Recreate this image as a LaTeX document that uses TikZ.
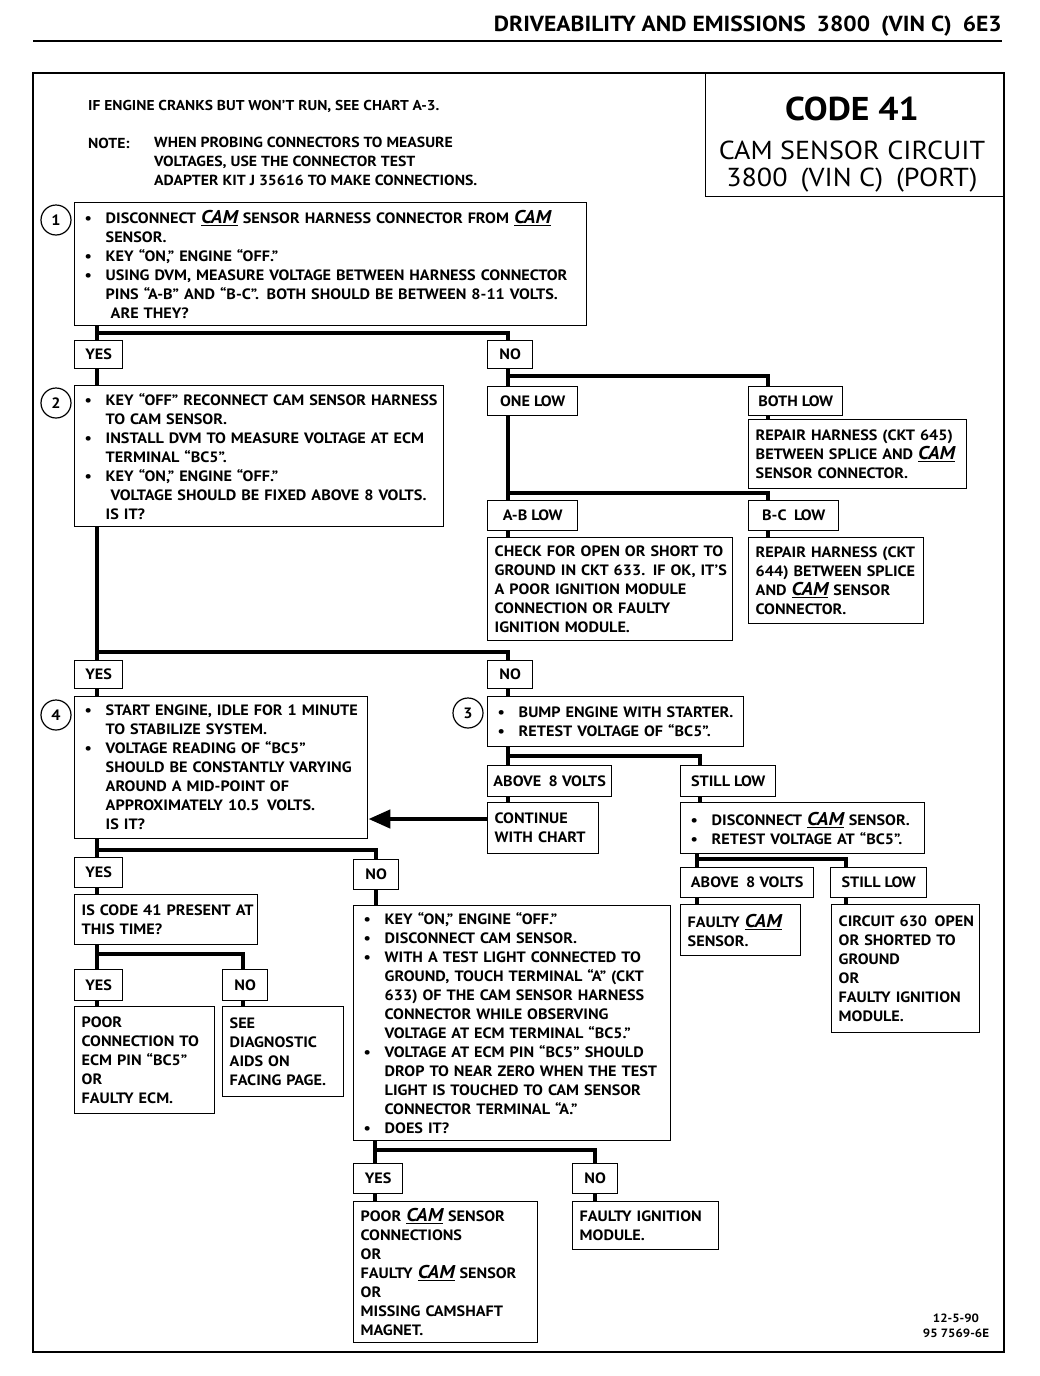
\documentclass[tikz,border=0pt]{standalone}
\usepackage{fontspec}
\setmainfont{PT Sans}[FakeStretch=1.08]
\usetikzlibrary{arrows.meta,calc}
\newcommand\bodyf{\fontsize{15}{19}\selectfont\bfseries}
\newcommand\cam{\underline{\fontsize{18.5}{19}\selectfont\bfseries\itshape CAM}}
\newcommand\lx[1]{\makebox[0pt][l]{#1}}
\newcommand\bl[1]{\lx{\makebox[24pt][l]{\hspace{3pt}\textbullet}#1}}
\newcommand\ct[1]{\lx{\hspace*{24pt}#1}}
\begin{document}
\begin{tikzpicture}[x=1pt,y=-1pt,
 box/.style={draw, line width=1.4pt, anchor=north west, align=left, inner xsep=7pt, inner ysep=2pt, font=\bodyf},
 lab/.style={draw, line width=1.4pt, anchor=north west, align=center, inner sep=0pt, font=\bodyf},
 conn/.style={line width=4.5pt, line join=miter},
 num/.style={circle, draw, line width=1.2pt, minimum size=30pt, inner sep=0pt, font=\bodyf},
 txt/.style={anchor=base west, inner sep=0pt}]
\useasboundingbox (0,0) rectangle (1040,1376);
\fill[white] (0,0) rectangle (1040,1376);

% header
\node[anchor=base east, inner sep=0pt, font=\fontsize{21.8}{24}\selectfont\bfseries] (hdr) at (1002,31) {DRIVEABILITY AND EMISSIONS\enspace 3800\enspace (VIN C)\enspace 6E3};
\draw[line width=1.5pt] (33,41) -- (1002,41);

% frame
\draw[line width=2.5pt] (33,73) rectangle (1004,1352);

% title
\node[draw, line width=1.4pt, anchor=north west, minimum width=299pt, minimum height=123pt, inner sep=0pt] (titlebox) at (705,73) {};
\node[anchor=base, inner sep=0pt, font=\fontsize{33}{36}\selectfont\bfseries] (t1) at (852,120) {CODE 41};
\node[anchor=base, inner sep=0pt, font=\fontsize{26}{28}\selectfont] (t2) at (852,159) {CAM SENSOR CIRCUIT};
\node[anchor=base, inner sep=0pt, font=\fontsize{26}{28}\selectfont] (t3) at (852,186) {3800\enspace (VIN C)\enspace (PORT)};

% intro
\node[txt, font=\fontsize{14.3}{19}\selectfont\bfseries] (i1) at (88,110) {IF ENGINE CRANKS BUT WON’T RUN, SEE CHART A-3.};
\node[txt, font=\fontsize{14.5}{19}\selectfont\bfseries] (i2) at (88,148) {NOTE:};
\node[txt, font=\fontsize{14.6}{19}\selectfont\bfseries, align=left, anchor=north west] (i3) at (154,137) {WHEN PROBING CONNECTORS TO MEASURE\\VOLTAGES, USE THE CONNECTOR TEST\\ADAPTER KIT J 35616 TO MAKE CONNECTIONS.};

% step numbers
\node[num] (c1) at (56,220) {1};
\node[num] (c2) at (56,403) {2};
\node[num] (c4) at (56,715) {4};
\node[num] (c3) at (468,713) {3};

% boxes
\node[box, minimum width=512pt, text width=498pt, minimum height=123pt] (b1) at (74,202)
 {\bl{DISCONNECT \cam\ SENSOR HARNESS CONNECTOR FROM \cam}\\
  \ct{SENSOR.}\\
  \bl{KEY “ON,” ENGINE “OFF.”}\\
  \bl{USING DVM, MEASURE VOLTAGE BETWEEN HARNESS CONNECTOR}\\
  \ct{PINS “A-B” AND “B-C”.\enspace BOTH SHOULD BE BETWEEN 8-11 VOLTS.}\\
  \ct{\ ARE THEY?}};
\node[lab, minimum width=48pt, minimum height=28pt] (yes1) at (74,340) {YES};
\node[lab, minimum width=45pt, minimum height=28pt] (no1) at (487,340) {NO};

\node[box, minimum width=369pt, text width=355pt, minimum height=141pt] (b2) at (74,385)
 {\bl{KEY “OFF” RECONNECT CAM SENSOR HARNESS}\\
  \ct{TO CAM SENSOR.}\\
  \bl{INSTALL DVM TO MEASURE VOLTAGE AT ECM}\\
  \ct{TERMINAL “BC5”.}\\
  \bl{KEY “ON,” ENGINE “OFF.”}\\
  \ct{\ VOLTAGE SHOULD BE FIXED ABOVE 8 VOLTS.}\\
  \ct{IS IT?}};

\node[lab, minimum width=90pt, minimum height=29pt] (onelow) at (487,386) {ONE LOW};
\node[lab, minimum width=94pt, minimum height=29pt] (bothlow) at (748,386) {BOTH LOW};
\node[box, minimum width=218pt, text width=204pt, minimum height=69pt] (rep645) at (748,419)
 {\lx{REPAIR HARNESS (CKT 645)}\\\lx{BETWEEN SPLICE AND \cam}\\\lx{SENSOR CONNECTOR.}};
\node[lab, minimum width=90pt, minimum height=30pt] (ablow) at (487,500) {A-B LOW};
\node[lab, minimum width=90pt, minimum height=30pt] (bclow) at (748,500) {B-C\enspace LOW};
\node[box, minimum width=245pt, text width=231pt, minimum height=103pt] (chk633) at (487,537)
 {\lx{CHECK FOR OPEN OR SHORT TO}\\\lx{GROUND IN CKT 633.\enspace IF OK, IT’S}\\\lx{A POOR IGNITION MODULE}\\\lx{CONNECTION OR FAULTY}\\\lx{IGNITION MODULE.}};
\node[box, minimum width=175pt, text width=161pt, minimum height=86pt] (rep644) at (748,537)
 {\lx{REPAIR HARNESS (CKT}\\\lx{644) BETWEEN SPLICE}\\\lx{AND \cam\ SENSOR}\\\lx{CONNECTOR.}};

\node[lab, minimum width=48pt, minimum height=28pt] (yes2) at (74,660) {YES};
\node[lab, minimum width=45pt, minimum height=28pt] (no2) at (487,660) {NO};

\node[box, minimum width=293pt, text width=279pt, minimum height=142pt] (b4) at (74,696)
 {\bl{START ENGINE, IDLE FOR 1 MINUTE}\\
  \ct{TO STABILIZE SYSTEM.}\\
  \bl{VOLTAGE READING OF “BC5”}\\
  \ct{SHOULD BE CONSTANTLY VARYING}\\
  \ct{AROUND A MID-POINT OF}\\
  \ct{APPROXIMATELY 10.5\enspace VOLTS.}\\
  \ct{IS IT?}};
\node[box, minimum width=256pt, text width=242pt, minimum height=50pt] (b3) at (487,696)
 {\bl{BUMP ENGINE WITH STARTER.}\\
  \bl{RETEST VOLTAGE OF “BC5”.}};
\node[lab, minimum width=124pt, minimum height=31pt] (above1) at (487,765) {ABOVE\enspace 8 VOLTS};
\node[lab, minimum width=95pt, minimum height=31pt] (still1) at (680,765) {STILL LOW};
\node[box, minimum width=111pt, text width=97pt, minimum height=51pt] (cont) at (487,802)
 {\lx{CONTINUE}\\\lx{WITH CHART}};
\node[box, minimum width=244pt, text width=230pt, minimum height=51pt] (disc) at (680,802)
 {\bl{DISCONNECT \cam\ SENSOR.}\\
  \bl{RETEST VOLTAGE AT “BC5”.}};
\node[lab, minimum width=133pt, minimum height=30pt] (above2) at (680,867) {ABOVE\enspace 8 VOLTS};
\node[lab, minimum width=96pt, minimum height=30pt] (still2) at (830,867) {STILL LOW};
\node[box, minimum width=120pt, text width=106pt, minimum height=51pt] (faulty) at (680,904)
 {\lx{FAULTY \cam}\\\lx{SENSOR.}};
\node[box, minimum width=148pt, text width=134pt, minimum height=128pt] (ckt630) at (831,904)
 {\lx{CIRCUIT 630\enspace OPEN}\\\lx{OR SHORTED TO}\\\lx{GROUND}\\\lx{OR}\\\lx{FAULTY IGNITION}\\\lx{MODULE.}};

\node[lab, minimum width=48pt, minimum height=30pt] (yes3) at (74,857) {YES};
\node[lab, minimum width=45pt, minimum height=30pt] (no3) at (353,859) {NO};
\node[box, minimum width=183pt, text width=169pt, minimum height=50pt] (code41q) at (74,894)
 {\lx{IS CODE 41 PRESENT AT}\\\lx{THIS TIME?}};
\node[lab, minimum width=48pt, minimum height=31pt] (yes4) at (74,969) {YES};
\node[lab, minimum width=45pt, minimum height=31pt] (no4) at (222,969) {NO};
\node[box, minimum width=140pt, text width=126pt, minimum height=107pt] (poor) at (74,1006)
 {\lx{POOR}\\\lx{CONNECTION TO}\\\lx{ECM PIN “BC5”}\\\lx{OR}\\\lx{FAULTY ECM.}};
\node[box, minimum width=121pt, text width=107pt, minimum height=90pt] (see) at (222,1006)
 {\lx{SEE}\\\lx{DIAGNOSTIC}\\\lx{AIDS ON}\\\lx{FACING PAGE.}};

\node[box, minimum width=317pt, text width=303pt, minimum height=235pt] (bigno) at (353,905)
 {\bl{KEY “ON,” ENGINE “OFF.”}\\
  \bl{DISCONNECT CAM SENSOR.}\\
  \bl{WITH A TEST LIGHT CONNECTED TO}\\
  \ct{GROUND, TOUCH TERMINAL “A” (CKT}\\
  \ct{633) OF THE CAM SENSOR HARNESS}\\
  \ct{CONNECTOR WHILE OBSERVING}\\
  \ct{VOLTAGE AT ECM TERMINAL “BC5.”}\\
  \bl{VOLTAGE AT ECM PIN “BC5” SHOULD}\\
  \ct{DROP TO NEAR ZERO WHEN THE TEST}\\
  \ct{LIGHT IS TOUCHED TO CAM SENSOR}\\
  \ct{CONNECTOR TERMINAL “A.”}\\
  \bl{DOES IT?}};
\node[lab, minimum width=49pt, minimum height=30pt] (yes5) at (353,1163) {YES};
\node[lab, minimum width=45pt, minimum height=30pt] (no5) at (572,1163) {NO};
\node[box, minimum width=184pt, text width=170pt, minimum height=141pt] (poorcam) at (353,1201)
 {\lx{POOR \cam\ SENSOR}\\\lx{CONNECTIONS}\\\lx{OR}\\\lx{FAULTY \cam\ SENSOR}\\\lx{OR}\\\lx{MISSING CAMSHAFT}\\\lx{MAGNET.}};
\node[box, minimum width=146pt, text width=132pt, minimum height=48pt] (faultyign) at (572,1201)
 {\lx{FAULTY IGNITION}\\\lx{MODULE.}};

% footer
\node[anchor=north, inner sep=0pt, align=center, font=\fontsize{12}{15}\selectfont\bfseries] (foot) at (956,1314) {12-5-90\\95 7569-6E};

% connectors
\coordinate (ja) at (97,333); \coordinate (jb) at (508,333);
\draw[conn] (b1.south -| ja) -- (yes1.north -| ja);
\draw[conn] (ja) -- (jb) -- (no1.north -| jb);
\draw[conn] (yes1.south -| ja) -- (b2.north -| ja);

\coordinate (jc) at (508,376); \coordinate (jd) at (768,376);
\draw[conn] (no1.south -| jc) -- (onelow.north -| jc);
\draw[conn] (jc) -- (jd) -- (bothlow.north -| jd);
\draw[conn] (bothlow.south -| jd) -- (rep645.north -| jd);

\coordinate (je) at (508,493); \coordinate (jf) at (768,493);
\draw[conn] (onelow.south -| je) -- (ablow.north -| je);
\draw[conn] (je) -- (jf) -- (bclow.north -| jf);
\draw[conn] (ablow.south -| je) -- (chk633.north -| je);
\draw[conn] (bclow.south -| jf) -- (rep644.north -| jf);

\coordinate (jg) at (97,652); \coordinate (jh) at (508,652);
\draw[conn] (b2.south -| jg) -- (yes2.north -| jg);
\draw[conn] (jg) -- (jh) -- (no2.north -| jh);
\draw[conn] (yes2.south -| jg) -- (b4.north -| jg);
\draw[conn] (no2.south -| jh) -- (b3.north -| jh);

\coordinate (ji) at (508,756); \coordinate (jj) at (700,756);
\draw[conn] (b3.south -| ji) -- (above1.north -| ji);
\draw[conn] (ji) -- (jj) -- (still1.north -| jj);
\draw[conn] (above1.south -| ji) -- (cont.north -| ji);
\draw[conn] (still1.south -| jj) -- (disc.north -| jj);

\coordinate (jk) at (487,819);
\draw[conn, -{Triangle[length=22pt,width=18pt]}] (cont.west |- jk) -- (b4.east |- jk);

\coordinate (jl) at (697,859); \coordinate (jm) at (846,859);
\draw[conn] (disc.south -| jl) -- (above2.north -| jl);
\draw[conn] (jl) -- (jm) -- (still2.north -| jm);
\draw[conn] (above2.south -| jl) -- (faulty.north -| jl);
\draw[conn] (still2.south -| jm) -- (ckt630.north -| jm);

\coordinate (jn) at (97,850); \coordinate (jo) at (376,850);
\draw[conn] (b4.south -| jn) -- (yes3.north -| jn);
\draw[conn] (jn) -- (jo) -- (no3.north -| jo);
\draw[conn] (yes3.south -| jn) -- (code41q.north -| jn);
\draw[conn] (no3.south -| jo) -- (bigno.north -| jo);

\coordinate (jp) at (97,954); \coordinate (jq) at (243,954);
\draw[conn] (code41q.south -| jp) -- (yes4.north -| jp);
\draw[conn] (jp) -- (jq) -- (no4.north -| jq);
\draw[conn] (yes4.south -| jp) -- (poor.north -| jp);
\draw[conn] (no4.south -| jq) -- (see.north -| jq);

\coordinate (jr) at (375,1150); \coordinate (js) at (595,1150);
\draw[conn] (bigno.south -| jr) -- (yes5.north -| jr);
\draw[conn] (jr) -- (js) -- (no5.north -| js);
\draw[conn] (yes5.south -| jr) -- (poorcam.north -| jr);
\draw[conn] (no5.south -| js) -- (faultyign.north -| js);
\end{tikzpicture}
\end{document}
